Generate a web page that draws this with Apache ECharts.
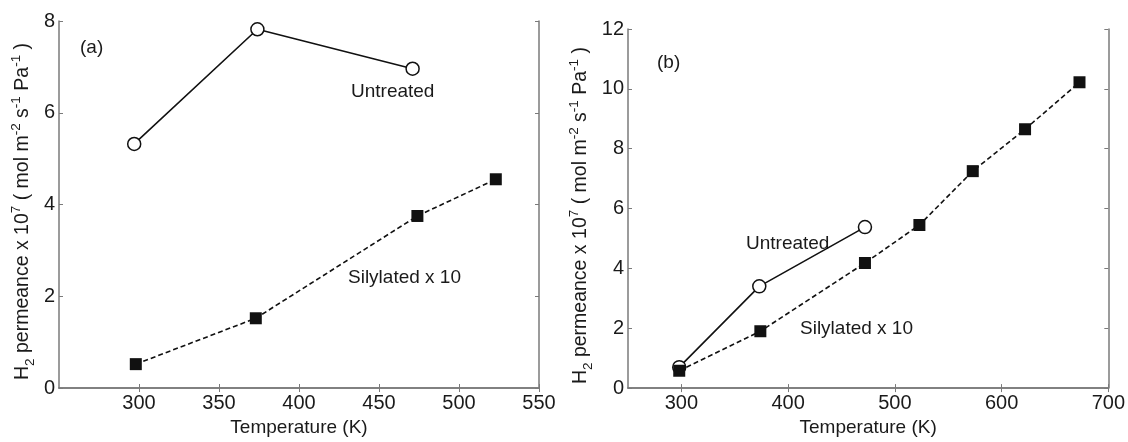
<!DOCTYPE html>
<html>
<head>
<meta charset="utf-8">
<script src="https://cdn.jsdelivr.net/npm/echarts@6/dist/echarts.min.js"></script>
<style>
html,body{margin:0;padding:0;background:#fff;}
#c{width:1128px;height:442px;}
</style>
</head>
<body>
<div id="c"></div>
<script>
// Panel (a)
var tempA_untreated = [297, 374, 471];
var permA_untreated = [5.32, 7.82, 6.96];
var tempA_silylated = [298, 373, 474, 523];
var permA_silylated = [0.52, 1.52, 3.75, 4.55];
// Panel (b)
var tempB_untreated = [298, 373, 472];
var permB_untreated = [0.70, 3.40, 5.38];
var tempB_silylated = [298, 374, 472, 523, 573, 622, 673];
var permB_silylated = [0.58, 1.90, 4.18, 5.45, 7.25, 8.65, 10.22];
// Ticks
var xTicksA = [300, 350, 400, 450, 500, 550];
var xTicksB = [300, 400, 500, 600, 700];
var xLabel = 'Temperature (K)';
var seriesNames = ['Untreated', 'Silylated x 10'];

var FONT = 'Liberation Sans, Arial, sans-serif';
var AX = '#7a7a7a';
var TXT = '#1a1a1a';
var FS = 19;

function pts(xs, ys){ return xs.map(function(x,i){ return [x, ys[i]]; }); }

function xAxes(gi, min, max, ticks, gap){
  return [{
    type:'value', gridIndex:gi, min:min, max:max, position:'bottom',
    axisLine:{show:true, lineStyle:{color:AX, width:1.5}},
    axisTick:{show:true, inside:true, length:4, customValues:ticks, lineStyle:{color:AX}},
    axisLabel:{show:true, customValues:ticks, color:TXT, fontSize:20, fontFamily:FONT, margin:5},
    splitLine:{show:false},
    name:xLabel, nameLocation:'middle', nameGap:gap,
    nameTextStyle:{color:TXT, fontSize:FS, fontFamily:FONT}
  },{
    type:'value', gridIndex:gi, min:min, max:max, position:'top',
    axisLine:{show:true, lineStyle:{color:AX, width:1.5}},
    axisTick:{show:true, inside:true, length:4, customValues:ticks, lineStyle:{color:AX}},
    axisLabel:{show:false}, splitLine:{show:false}
  }];
}
var yName = '{n|H}{sub|2}{n| permeance x 10}{sup|7}{n| ( mol m}{sup|-2}{n| s}{sup|-1}{n| Pa}{sup|-1}{n| )}';
var yRich = {
  n:{fontSize:19.5, fontFamily:FONT, color:TXT, lineHeight:28, verticalAlign:'middle'},
  sup:{fontSize:13.5, fontFamily:FONT, color:TXT, lineHeight:28, verticalAlign:'top', padding:[0,0,4,0]},
  sub:{fontSize:13.5, fontFamily:FONT, color:TXT, lineHeight:28, verticalAlign:'bottom', padding:[4,0,0,0]}
};
function yAxes(gi, max, gap){
  return [{
    type:'value', gridIndex:gi, min:0, max:max, interval:2, position:'left',
    axisLine:{show:true, lineStyle:{color:AX, width:1.5}},
    axisTick:{show:true, inside:true, length:4, lineStyle:{color:AX}},
    axisLabel:{show:true, color:TXT, fontSize:20, fontFamily:FONT, margin:4},
    splitLine:{show:false},
    name:yName, nameLocation:'middle', nameGap:gap, nameRotate:90,
    nameTextStyle:{rich:yRich, padding:[0,14,0,0]}
  },{
    type:'value', gridIndex:gi, min:0, max:max, interval:2, position:'right',
    axisLine:{show:true, lineStyle:{color:AX, width:1.5}},
    axisTick:{show:true, inside:true, length:4, lineStyle:{color:AX}},
    axisLabel:{show:false}, splitLine:{show:false}
  }];
}

function untreated(xi, yi, data){
  return {name:seriesNames[0], type:'line', xAxisIndex:xi, yAxisIndex:yi, data:data,
    symbol:'circle', symbolSize:13, showAllSymbol:true,
    lineStyle:{color:'#111', width:1.6, type:'solid'},
    itemStyle:{color:'#fff', borderColor:'#111', borderWidth:1.5},
    animation:false, z:3};
}
function silylated(xi, yi, data){
  return {name:seriesNames[1], type:'line', xAxisIndex:xi, yAxisIndex:yi, data:data,
    symbol:'rect', symbolSize:12, showAllSymbol:true,
    lineStyle:{color:'#111', width:1.6, type:[5,3]},
    itemStyle:{color:'#111', borderColor:'#111', borderWidth:0},
    animation:false, z:4};
}

var chart = echarts.init(document.getElementById('c'), null, {renderer:'canvas'});
var xa = xAxes(0, 250, 550, xTicksA, 22).concat(xAxes(1, 250, 700, xTicksB, 23));
var ya = yAxes(0, 8, 22).concat(yAxes(1, 12, 33));

function txt(x, y, s){
  return {type:'text', left:x, top:y, style:{text:s, fill:TXT, font:FS + 'px ' + FONT}};
}

chart.setOption({
  animation:false,
  backgroundColor:'#fff',
  grid:[
    {left:59, top:21, width:480, height:367, containLabel:false},
    {left:628, top:29, width:482, height:373, containLabel:false}
  ],
  xAxis:xa,
  yAxis:ya,
  series:[
    untreated(0, 0, pts(tempA_untreated, permA_untreated)),
    silylated(0, 0, pts(tempA_silylated, permA_silylated)),
    untreated(2, 2, pts(tempB_untreated, permB_untreated)),
    silylated(2, 2, pts(tempB_silylated, permB_silylated))
  ],
  graphic:[
    txt(80, 38, '(a)'),
    txt(657, 53, '(b)'),
    txt(351, 82, seriesNames[0]),
    txt(348, 268, seriesNames[1]),
    txt(746, 234, seriesNames[0]),
    txt(800, 319, seriesNames[1])
  ]
});
</script>
</body>
</html>
